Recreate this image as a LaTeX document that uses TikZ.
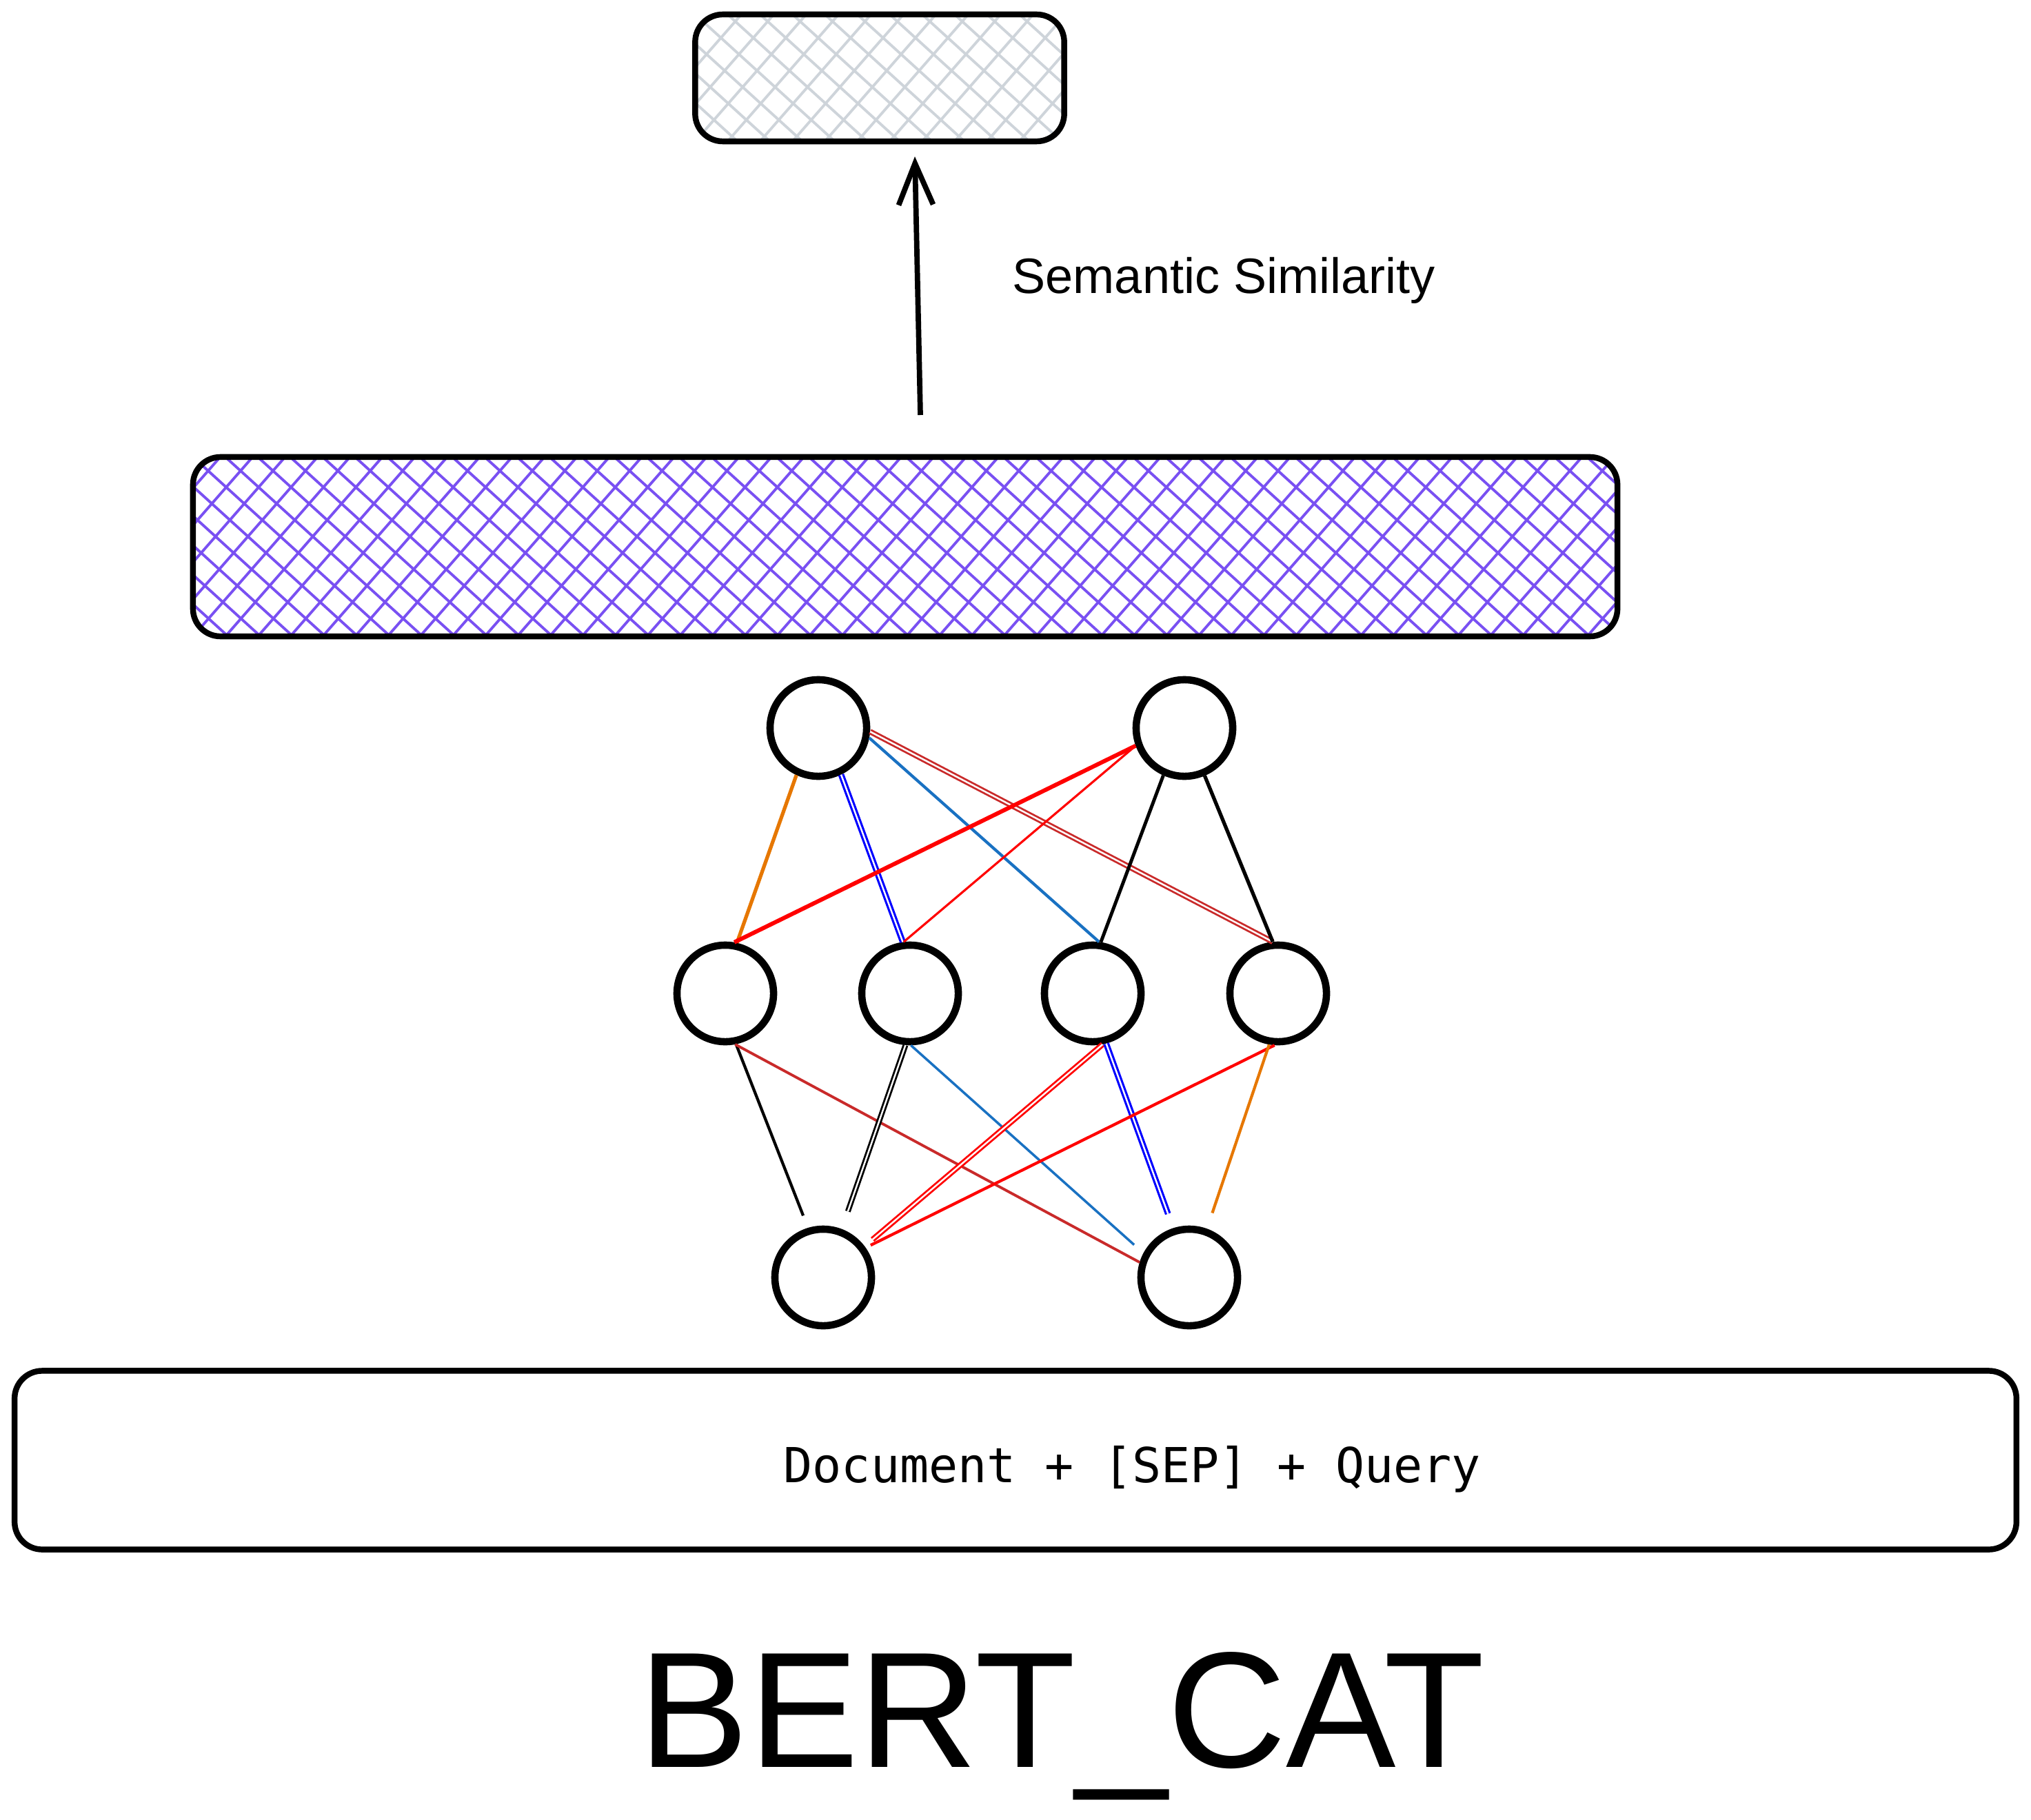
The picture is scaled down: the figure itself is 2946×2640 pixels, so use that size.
\documentclass[tikz,border=0pt]{standalone}
\usepackage{fontspec}
\setmainfont{Liberation Sans}
\setmonofont{DejaVu Sans Mono}
\usepackage{xcolor}
\usetikzlibrary{arrows.meta}

\definecolor{hatchviolet}{HTML}{7950F2}
\definecolor{hatchgray}{HTML}{CED4DA}
\definecolor{edgeorange}{HTML}{E67700}
\definecolor{edgeblue}{HTML}{0000FF}
\definecolor{edgesteel}{HTML}{1971C2}
\definecolor{edgebrick}{HTML}{C92A2A}
\definecolor{edgered}{HTML}{FF0000}

\begin{document}
\begin{tikzpicture}[
  x=0.01cm, y=-0.01cm,
  box/.style={draw, line width=2.4pt, rounded corners=4mm, inner sep=0pt},
  hatch/.style={path picture={
      \foreach \i in {-10,...,45}
        \draw[#1, line width=1.1pt]
          ([xshift=\i*4.7mm]path picture bounding box.south west) -- ++(350,-400)
          ([xshift=\i*4.7mm]path picture bounding box.north west) -- ++(440,400);
    }},
  neuron/.style={draw, circle, line width=3pt, minimum size=1.4cm, inner sep=0pt},
  dbl/.style={double=white, double distance=0.7pt},
  ar/.style={-{Straight Barb[length=6mm, width=5mm]}, line width=2.2pt}
]
  \useasboundingbox (0,0) rectangle (2946,2640);

  % boxes
  \node[box, hatch=hatchgray, minimum width=5.35cm, minimum height=1.84cm] (sim) at (1276,113) {};
  \node[box, hatch=hatchviolet, minimum width=20.65cm, minimum height=2.6cm] (enc) at (1313,793) {};
  \node[box, minimum width=29.02cm, minimum height=2.59cm] (inp) at (1473,2118) {};

  \coordinate (tail) at (1335,602);
  \coordinate (tip) at (1327,227);
  \draw[ar] (tail) -- (tip);

  \node[font=\fontsize{20.5}{24}\selectfont, anchor=base west, inner sep=0pt] (simlabel) at (1468,426) {Semantic Similarity};
  \node[font=\ttfamily\fontsize{19.9}{24}\selectfont, anchor=base west, inner sep=0pt] (inplabel) at (1136,2150) {Document + [SEP] + Query};
  \node[font=\fontsize{68}{80}\selectfont, anchor=base west, inner sep=0pt] (title) at (926,2563) {BERT\_CAT};

  % network
  \node[neuron] (t1) at (1187,1056) {};
  \node[neuron] (t2) at (1718,1056) {};
  \node[neuron] (m1) at (1052,1441) {};
  \node[neuron] (m2) at (1320,1441) {};
  \node[neuron] (m3) at (1585,1441) {};
  \node[neuron] (m4) at (1854,1441) {};
  \node[neuron] (b1) at (1194,1853) {};
  \node[neuron] (b2) at (1725,1853) {};

  \draw[edgeorange, line width=1.5pt] (t1.-115) -- (m1.77);
  \draw[edgeblue, line width=0.9pt, dbl] (t1.-64) -- (m2.98);
  \draw[edgesteel, line width=1.2pt] (t1.-11) -- (m3.83);
  \draw[edgebrick, line width=0.8pt, dbl] (t1.-4) -- (m4.96);
  \draw[edgered, line width=1.7pt] (t2.-160) -- (m1.80);
  \draw[edgered, line width=0.9pt] (t2.-160) -- (m2.97);
  \draw[line width=1.4pt] (t2.-114) -- (m3.81);
  \draw[line width=1.5pt] (t2.-67) -- (m4.96);

  \draw[line width=1.2pt, shorten >=1.9mm] (m1.-78) -- (b1.107);
  \draw[edgebrick, line width=1.1pt] (m1.-79) -- (b2.163);
  \draw[line width=0.8pt, dbl, shorten >=2.7mm] (m2.-95) -- (b1.69);
  \draw[edgesteel, line width=1pt, shorten >=1.8mm] (m2.-89) -- (b2.152);
  \draw[edgered, line width=0.8pt, dbl, shorten >=1.5mm] (m3.-79) -- (b1.37);
  \draw[edgeblue, line width=0.9pt, dbl, shorten >=2.2mm] (m3.-75) -- (b2.108);
  \draw[edgered, line width=1.2pt, shorten >=0.8mm] (m4.-94) -- (b1.35);
  \draw[edgeorange, line width=1.2pt, shorten >=2.4mm] (m4.-100) -- (b2.70);
\end{tikzpicture}
\end{document}
